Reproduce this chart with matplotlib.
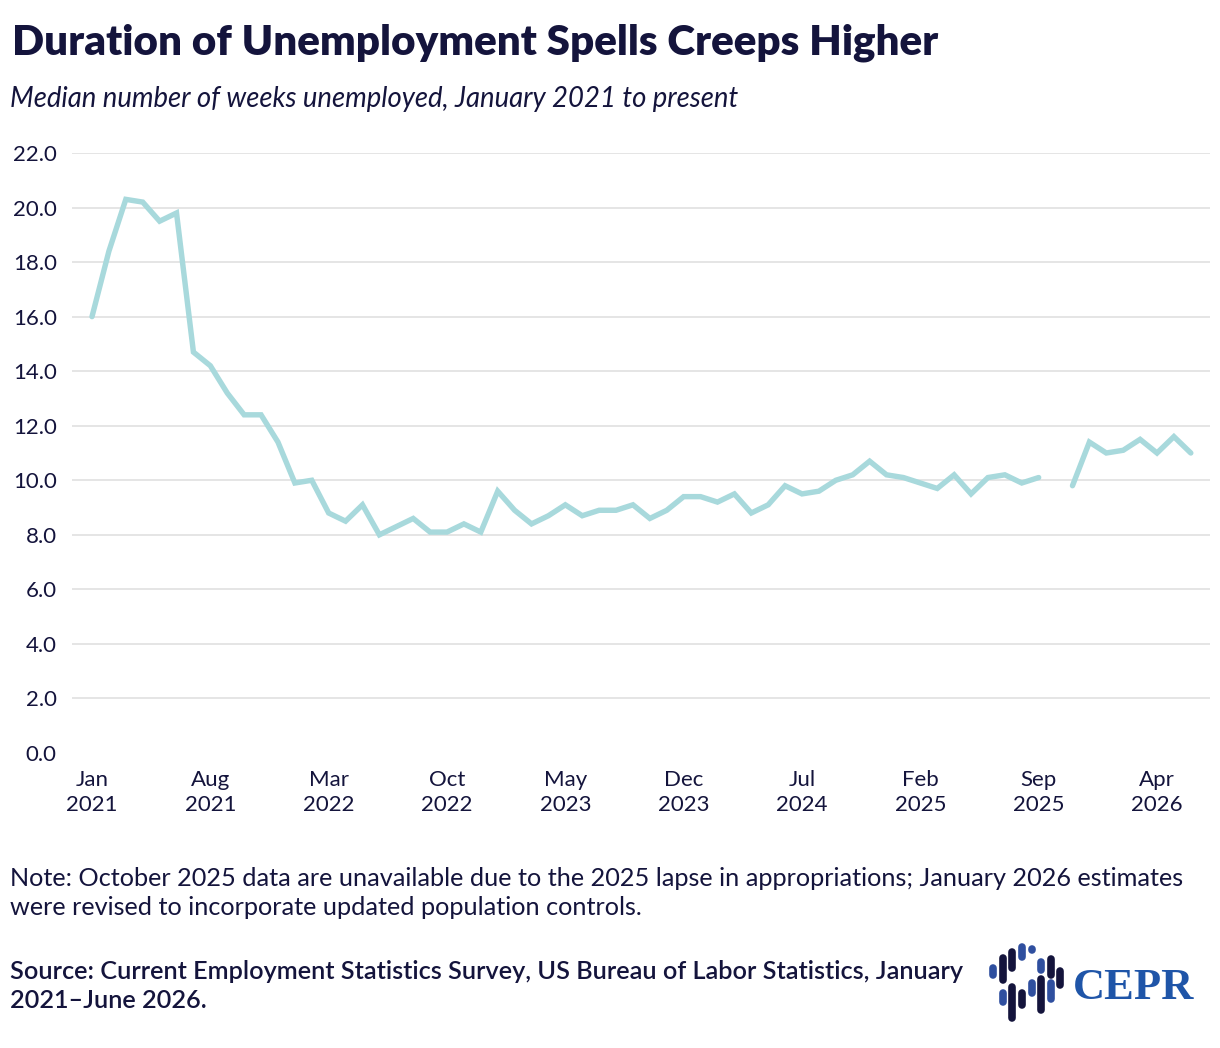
import numpy as np
import matplotlib
matplotlib.use("Agg")
import matplotlib.pyplot as plt

plt.rcParams.update({"font.family": ["Lato", "DejaVu Sans"]})

NAVY = "#14143c"
LINE = "#a8d9dc"
GRID = "#e3e3e3"

# median weeks unemployed, Jan 2021 .. Jun 2026 (Oct 2025 missing)
weeks_2021 = [16.0, 18.4, 20.3, 20.2, 19.5, 19.8, 14.7, 14.2, 13.2, 12.4, 12.4, 11.4]
weeks_2022 = [9.9, 10.0, 8.8, 8.5, 9.1, 8.0, 8.3, 8.6, 8.1, 8.1, 8.4, 8.1]
weeks_2023 = [9.6, 8.9, 8.4, 8.7, 9.1, 8.7, 8.9, 8.9, 9.1, 8.6, 8.9, 9.4]
weeks_2024 = [9.4, 9.2, 9.5, 8.8, 9.1, 9.8, 9.5, 9.6, 10.0, 10.2, 10.7, 10.2]
weeks_2025 = [10.1, 9.9, 9.7, 10.2, 9.5, 10.1, 10.2, 9.9, 10.1, np.nan, 9.8, 11.4]
weeks_2026 = [11.0, 11.1, 11.5, 11.0, 11.6, 11.0]
weeks = np.array(weeks_2021 + weeks_2022 + weeks_2023 + weeks_2024 + weeks_2025 + weeks_2026)

tick_labels = ["Jan\n2021", "Aug\n2021", "Mar\n2022", "Oct\n2022", "May\n2023",
               "Dec\n2023", "Jul\n2024", "Feb\n2025", "Sep\n2025", "Apr\n2026"]
yticks = [0, 2, 4, 6, 8, 10, 12, 14, 16, 18, 20, 22]

fig = plt.figure(figsize=(12.2, 10.48), dpi=100)
ax = fig.add_axes([72 / 1220, 295 / 1048, 1138 / 1220, 600 / 1048])

x = np.arange(len(weeks))
ax.plot(x, weeks, color=LINE, lw=3.9, solid_capstyle="round", solid_joinstyle="miter")

ax.set_xlim(-20 / 16.905, 63 + 53 / 16.905)
ax.set_ylim(0, 22)
ax.set_yticks(yticks)
ax.set_yticklabels([f"{v:.1f}" for v in yticks])
ax.set_xticks(np.arange(0, 64, 7))
ax.set_xticklabels(tick_labels, linespacing=1.35)
ax.tick_params(axis="both", length=0, labelsize=16, labelcolor=NAVY)
ax.tick_params(axis="y", pad=11)
ax.tick_params(axis="x", pad=12)
for v in yticks[1:]:
    ax.axhline(v, color=GRID, lw=1.3, zorder=0)
for s in ax.spines.values():
    s.set_visible(False)

fig.text(12 / 1220, 1 - 55 / 1048, "Duration of Unemployment Spells Creeps Higher",
         fontsize=30.3, fontweight="heavy", color=NAVY, va="baseline")
fig.text(10 / 1220, 1 - 107 / 1048, "Median number of weeks unemployed, January 2021 to present",
         fontsize=19.8, style="italic", color=NAVY, va="baseline")

fig.text(10 / 1220, 1 - 893 / 1048,
         "Note: October 2025 data are unavailable due to the 2025 lapse in appropriations; January 2026 estimates\n"
         "were revised to incorporate updated population controls.",
         fontsize=18.2, color=NAVY, va="center", linespacing=1.3)
fig.text(10 / 1220, 1 - 986 / 1048,
         "Source: Current Employment Statistics Survey, US Bureau of Labor Statistics, January\n"
         "2021\u2013June 2026.",
         fontsize=18.2, fontweight="semibold", color=NAVY, va="center", linespacing=1.3)

# CEPR logo: rounded bars + wordmark
BLUE = "#2f4f9f"
bars = [(993, 968, 975, BLUE), (1003, 958, 980, NAVY), (1012, 952, 968, NAVY),
        (1022, 947, 957, BLUE), (1032, 949, 949.5, BLUE), (1003, 993, 1002, BLUE),
        (1012, 987, 1018, NAVY), (1022, 993, 1005, NAVY), (1032, 983, 993, BLUE),
        (1041, 979, 1010, NAVY), (1041, 962, 970, BLUE), (1051, 959, 975, NAVY),
        (1051, 983, 999, BLUE), (1060, 971, 985, NAVY)]
for bx, y0, y1, c in bars:
    fig.add_artist(plt.Line2D([bx / 1220, bx / 1220], [1 - y0 / 1048, 1 - y1 / 1048],
                              color=c, lw=5.5, solid_capstyle="round"))
fig.text(1073 / 1220, 1 - 999 / 1048, "CEPR", fontsize=32, fontweight="bold",
         family="Liberation Serif", color="#1f55a8", va="baseline")

fig.savefig("out.png", dpi=100)
